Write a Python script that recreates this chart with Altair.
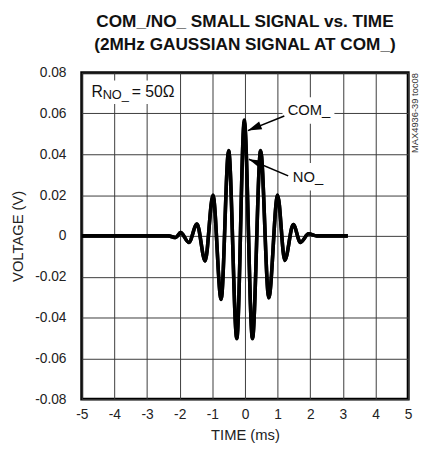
import altair as alt
import pandas as pd

# ---- data ----
t_vals = [-5.0, -2.35, -2.12, -1.97, -1.72, -1.47, -1.22, -0.98, -0.73, -0.50, -0.25,
          -0.02, 0.23, 0.48, 0.73, 1.00, 1.22, 1.48, 1.70, 1.95, 2.20, 3.15]
com_vals = [0.0, 0.0, -0.0008, 0.0016, -0.0032, 0.0058, -0.0123, 0.0200, -0.0312, 0.0419, -0.0504,
            0.0568, -0.0504, 0.0419, -0.0304, 0.0200, -0.0120, 0.0056, -0.0032, 0.0010, 0.0, 0.0]
no_vals = [0.0, 0.0, -0.0008, 0.0016, -0.0032, 0.0058, -0.0123, 0.0198, -0.0310, 0.0416, -0.0500,
           0.0556, -0.0500, 0.0416, -0.0302, 0.0198, -0.0120, 0.0056, -0.0032, 0.0010, 0.0, 0.0]

x_ticks = [-5, -4, -3, -2, -1, 0, 1, 2, 3, 4, 5]
y_ticks = [-0.08, -0.06, -0.04, -0.02, 0.0, 0.02, 0.04, 0.06, 0.08]

# annotation labels
label_text = ["COM_", "NO_"]
label_t = [1.96, 1.93]
label_v = [0.0617, 0.0289]

# white boxes behind labels
box_t1 = [1.15, 1.30, -4.85]
box_t2 = [2.74, 2.62, -2.14]
box_v1 = [0.0549, 0.0222, 0.0646]
box_v2 = [0.0680, 0.0357, 0.0761]

# arrows: tail and tip
arrow_name = ["COM_", "NO_"]
arrow_tail_t = [1.205, 1.325]
arrow_tail_v = [0.0588, 0.0294]
arrow_tip_t = [0.09, 0.12]
arrow_tip_v = [0.0516, 0.0376]
arrow_angle = [248, 293]

# R_NO_ = 50 ohm label pieces
r_text = ["R", "NO_", "= 50Ω"]
r_t = [-4.70, -4.36, -3.47]
r_v = [0.0680, 0.0672, 0.0680]
r_size = [16, 13, 16]

FONT = "Liberation Sans"
W, H = 332, 332

sig = pd.DataFrame({
    "t": t_vals * 2,
    "v": com_vals + no_vals,
    "series": ["COM_"] * len(t_vals) + ["NO_"] * len(t_vals),
})

xscale = alt.Scale(domain=[-5, 5], nice=False, zero=False)
yscale = alt.Scale(domain=[-0.08, 0.08], nice=False, zero=False)

xaxis = alt.Axis(values=x_ticks, title="TIME (ms)", grid=True, gridColor="#3a3a3a", gridWidth=1,
                 gridOpacity=1, domain=False, ticks=False, labelFont=FONT, labelFontSize=14,
                 labelColor="#222", labelPadding=9, titleFont=FONT, titleFontSize=15,
                 titleFontWeight="normal", titleColor="#222", titlePadding=6,
                 labelExpr="datum.value < 0 ? '-' + format(-datum.value, 'd') : format(datum.value, 'd')",
                 labelFlush=False, labelOverlap=False)
yaxis = alt.Axis(values=y_ticks, title="VOLTAGE (V)", grid=True, gridColor="#3a3a3a", gridWidth=1,
                 gridOpacity=1, domain=False, ticks=False, labelFont=FONT, labelFontSize=14,
                 labelColor="#222", labelPadding=16, labelBaseline="middle",
                 titleFont=FONT, titleFontSize=15, titleFontWeight="normal", titleColor="#222",
                 titleX=-65, titleY=166, titleAngle=270, titleAlign="center", titleBaseline="middle",
                 labelExpr="abs(datum.value) < 1e-9 ? '0' : (datum.value < 0 ? '-' + format(-datum.value, '.2f') : format(datum.value, '.2f'))",
                 labelFlush=False, labelOverlap=False)

def X(field):
    return alt.X(field, scale=xscale, axis=xaxis)

def Y(field):
    return alt.Y(field, scale=yscale, axis=yaxis)

lines = alt.Chart(sig).mark_line(color="black", strokeWidth=3.6, interpolate="monotone",
                                 strokeJoin="round", clip=True).encode(
    x=X("t:Q"), y=Y("v:Q"), detail="series:N")

boxes = alt.Chart(pd.DataFrame({"t1": box_t1, "t2": box_t2, "v1": box_v1, "v2": box_v2})).mark_rect(
    color="white").encode(x=X("t1:Q"), x2="t2:Q", y=Y("v1:Q"), y2="v2:Q")

arr_df = pd.DataFrame({
    "name": arrow_name * 2,
    "t": arrow_tail_t + arrow_tip_t,
    "v": arrow_tail_v + arrow_tip_v,
    "o": [0, 0, 1, 1],
})
shafts = alt.Chart(arr_df).mark_line(color="black", strokeWidth=1.6).encode(
    x=X("t:Q"), y=Y("v:Q"), detail="name:N", order="o:Q")

heads = alt.Chart(pd.DataFrame({"t": arrow_tip_t, "v": arrow_tip_v, "a": arrow_angle})).mark_point(
    shape="M0,0L-0.3,1L0.3,1Z", filled=True, color="black", opacity=1, size=784).encode(
    x=X("t:Q"), y=Y("v:Q"), angle=alt.Angle("a:Q", scale=None))

labels = alt.Chart(pd.DataFrame({"t": label_t, "v": label_v, "txt": label_text})).mark_text(
    font=FONT, fontSize=15, color="#111", align="center", baseline="middle").encode(
    x=X("t:Q"), y=Y("v:Q"), text="txt:N")

rlab = alt.Chart(pd.DataFrame({"t": r_t, "v": r_v, "txt": r_text, "s": r_size})).mark_text(
    font=FONT, color="#111", align="left", baseline="alphabetic").encode(
    x=X("t:Q"), y=Y("v:Q"), text="txt:N", size=alt.Size("s:Q", scale=None))

side = alt.Chart(pd.DataFrame({"t": [5.21], "v": [0.0602], "txt": ["MAX4936-39 toc08"]})).mark_text(
    font=FONT, fontSize=9.5, color="#333", angle=270, align="center", baseline="middle").encode(
    x=X("t:Q"), y=Y("v:Q"), text="txt:N")

chart = alt.layer(lines, boxes, shafts, heads, labels, rlab, side).properties(
    width=W, height=H,
    title=alt.TitleParams(
        text=["COM_/NO_ SMALL SIGNAL vs. TIME", "(2MHz GAUSSIAN SIGNAL AT COM_)"],
        font=FONT, fontSize=17.5, fontWeight="bold",
        lineHeight=23, anchor="middle", offset=13, color="#111"),
    autosize=alt.AutoSizeParams(type="none"),
    padding={"left": 75, "top": 62, "right": 11, "bottom": 48},
).configure_view(stroke="black", strokeWidth=3).configure_axis(labelOverlap=False)

chart.save("out.html", embed_options={"renderer": "svg", "actions": False})
